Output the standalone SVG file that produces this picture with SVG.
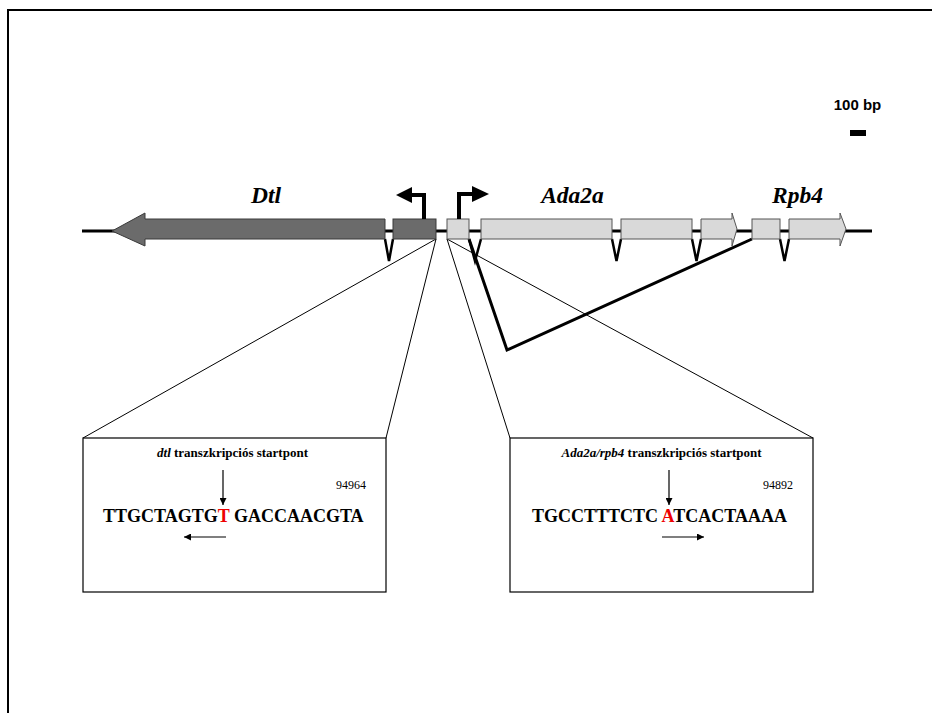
<svg xmlns="http://www.w3.org/2000/svg" width="932" height="713" viewBox="0 0 932 713">
<style>
.dark{fill:#6b6b6b;stroke:#3a3a3a;stroke-width:1}
.light{fill:#d9d9d9;stroke:#555;stroke-width:1}
.intron{fill:none;stroke:#000;stroke-width:2.5;stroke-linejoin:miter}
.thin{fill:none;stroke:#000;stroke-width:1}
.gene{font-family:"Liberation Serif",serif;font-weight:bold;font-style:italic;font-size:23.5px;text-anchor:middle}
.title{font-family:"Liberation Serif",serif;font-weight:bold;font-size:13px;text-anchor:middle}
.num{font-family:"Liberation Serif",serif;font-size:12px}
.seq{font-family:"Liberation Serif",serif;font-weight:bold;font-size:18px}
.box{fill:#fff;stroke:#000;stroke-width:1.2}
</style>
<defs>
<marker id="ah" viewBox="0 0 10 10" refX="10" refY="5" markerWidth="7" markerHeight="7" markerUnits="userSpaceOnUse" orient="auto">
<path d="M0,0 L10,5 L0,10 z" fill="#000"/>
</marker>
</defs>
<rect width="932" height="713" fill="#fff"/>
<path d="M8,713 V10 H932" fill="none" stroke="#000" stroke-width="2"/>

<g id="connectors">
<line x1="82" y1="231" x2="872" y2="231" stroke="#000" stroke-width="3"/>
<path class="thin" d="M436,239 L83,438 M436,239 L386,438"/>
<path class="thin" d="M447,239 L510,438 M447,239 L813,438"/>
<path d="M469,239 L507,350 L752,239" fill="none" stroke="#000" stroke-width="3"/>
<path class="intron" d="M385,239 L389,261 L393,239"/>
<path class="intron" d="M469,239 L475,261 L481,239"/>
<path class="intron" d="M612,239 L616.5,261 L621,239"/>
<path class="intron" d="M692,239 L696.5,261 L701,239"/>
<path class="intron" d="M780,239 L784.5,261 L789,239"/>
</g>

<g id="dtl">
<polygon class="dark" points="385,219 145,219 145,213 112,231 145,246 145,239 385,239"/>
<rect class="dark" x="393" y="219" width="43" height="20"/>
<path d="M424,219 V195 H410" fill="none" stroke="#000" stroke-width="4"/>
<polygon points="412,187 396,195 412,203" fill="#000"/>
<text class="gene" x="266" y="203">Dtl</text>
</g>

<g id="ada2a">
<rect class="light" x="447" y="219" width="22" height="20"/>
<rect class="light" x="481" y="219" width="131" height="20"/>
<rect class="light" x="621" y="219" width="71" height="20"/>
<polygon class="light" points="701,219 732,219 732,213 737,229 732,246 732,239 701,239"/>
<path d="M459,219 V194 H474" fill="none" stroke="#000" stroke-width="4"/>
<polygon points="472,186 489,194 472,202" fill="#000"/>
<text class="gene" x="572.5" y="203">Ada2a</text>
</g>

<g id="rpb4">
<rect class="light" x="752" y="219" width="28" height="20"/>
<polygon class="light" points="789,219 840,219 840,213 846,229 840,246 840,239 789,239"/>
<text class="gene" x="797.5" y="203">Rpb4</text>
</g>

<g id="scale">
<text x="857.5" y="110" font-family="Liberation Sans,Arial,sans-serif" font-weight="bold" font-size="15" text-anchor="middle">100 bp</text>
<rect x="850" y="130" width="16" height="6" fill="#000"/>
</g>

<g id="box-dtl">
<rect class="box" x="83" y="438" width="303" height="154"/>
<text class="title" x="232.5" y="457"><tspan font-style="italic">dtl</tspan> transzkripciós startpont</text>
<line x1="223" y1="470" x2="223" y2="505" stroke="#000" stroke-width="1.2" marker-end="url(#ah)"/>
<text class="num" x="336" y="489">94964</text>
<text class="seq" x="103" y="522">TTGCTAGTG<tspan fill="#e00">T</tspan> GACCAACGTA</text>
<line x1="226" y1="537" x2="184" y2="537" stroke="#000" stroke-width="1.2" marker-end="url(#ah)"/>
</g>

<g id="box-ada2a">
<rect class="box" x="510" y="438" width="303" height="154"/>
<text class="title" x="661.5" y="457"><tspan font-style="italic">Ada2a/rpb4</tspan> transzkripciós startpont</text>
<line x1="669" y1="470" x2="669" y2="505" stroke="#000" stroke-width="1.2" marker-end="url(#ah)"/>
<text class="num" x="763" y="489">94892</text>
<text class="seq" x="532" y="522">TGCCTTTCTC <tspan fill="#e00">A</tspan>TCACTAAAA</text>
<line x1="662" y1="537" x2="704" y2="537" stroke="#000" stroke-width="1.2" marker-end="url(#ah)"/>
</g>
</svg>
